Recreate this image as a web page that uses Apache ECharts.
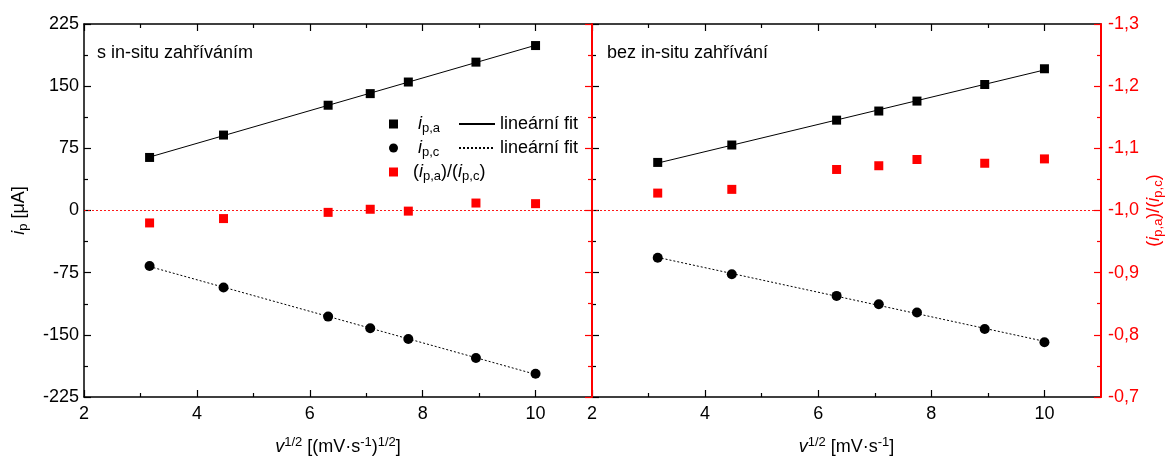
<!DOCTYPE html>
<html>
<head>
<meta charset="utf-8">
<script src="https://cdn.jsdelivr.net/npm/echarts@6/dist/echarts.min.js"></script>
<style>
  html, body { margin: 0; padding: 0; background: #fff; }
  #chart { width: 1170px; height: 457px; }
</style>
</head>
<body>
<div id="chart"></div>
<script>
// odmocnina z rychlosti skenu
var sqrtRate = [3.162, 4.472, 6.325, 7.071, 7.746, 8.944, 10];

// s in-situ zahrivanim
var leftIpa = [64, 91, 127, 141, 155, 179, 199];
var leftIpc = [-67, -93, -128, -142, -155, -178, -197];
var leftRatio = [-0.980, -0.987, -0.997, -1.002, -0.999, -1.012, -1.011];

// bez in-situ zahrivani
var rightIpa = [58, 79, 109, 120, 132, 152, 171];
var rightIpc = [-57, -77, -103, -113, -123, -143, -159];
var rightRatio = [-1.028, -1.034, -1.066, -1.072, -1.082, -1.076, -1.083];

var majorX = [2, 4, 6, 8, 10];
var minorX = [3, 5, 7, 9];
var panelTitles = ['s in-situ zahříváním', 'bez in-situ zahřívání'];

var FONT = 'Liberation Sans';
var FS = 18;
var RED = '#ff0000';

function pairs(xs, ys) {
    return xs.map(function (x, i) { return [x, ys[i]]; });
}

// linearni fit (nejmensi ctverce), usecka od prvniho do posledniho bodu
function linFit(xs, ys) {
    var n = xs.length, sx = 0, sy = 0, sxx = 0, sxy = 0;
    for (var i = 0; i < n; i++) {
        sx += xs[i]; sy += ys[i]; sxx += xs[i] * xs[i]; sxy += xs[i] * ys[i];
    }
    var k = (n * sxy - sx * sy) / (n * sxx - sx * sx);
    var q = (sy - k * sx) / n;
    var x0 = xs[0], x1 = xs[n - 1];
    return [[x0, k * x0 + q], [x1, k * x1 + q]];
}

var rich = {
    it: { fontStyle: 'italic', fontSize: FS, fontFamily: FONT, lineHeight: 22 },
    t: { fontSize: FS, fontFamily: FONT, lineHeight: 22 },
    sub: { fontSize: 13, fontFamily: FONT, verticalAlign: 'bottom', lineHeight: 14 },
    sup: { fontSize: 13, fontFamily: FONT, verticalAlign: 'top', lineHeight: 14 },
    g1: { width: 15, lineHeight: 22 },
    g2: { width: 10, lineHeight: 22 }
};

var axisLineBlack = { show: true, onZero: false, lineStyle: { color: '#000', width: 1.5 } };
var axisLineRed = { show: true, onZero: false, lineStyle: { color: RED, width: 2 } };

function xMain(grid, pos, withLabels, name) {
    return {
        type: 'value', gridIndex: grid, position: pos, min: 2, max: 11, interval: 1,
        axisLine: axisLineBlack,
        axisTick: { show: true, inside: true, length: 7, customValues: majorX, lineStyle: { color: '#000', width: 1.2 } },
        axisLabel: {
            show: withLabels, customValues: majorX, color: '#000', fontSize: FS, fontFamily: FONT, margin: 8
        },
        splitLine: { show: false },
        name: name || '',
        nameLocation: 'middle',
        nameGap: 39,
        nameTextStyle: { color: '#000', fontSize: FS, fontFamily: FONT, lineHeight: 22, rich: rich }
    };
}

function xMinor(grid, pos) {
    return {
        type: 'value', gridIndex: grid, position: pos, min: 2, max: 11, interval: 1,
        axisLine: { show: false, onZero: false },
        axisTick: { show: true, inside: true, length: 4, customValues: minorX, lineStyle: { color: '#000', width: 1.2 } },
        axisLabel: { show: false },
        splitLine: { show: false }
    };
}

function yIp(grid, withLabels) {
    return {
        type: 'value', gridIndex: grid, position: 'left', min: -225, max: 225, interval: 75,
        axisLine: axisLineBlack,
        axisTick: { show: true, inside: true, length: 7, lineStyle: { color: '#000', width: 1.2 } },
        minorTick: { show: true, splitNumber: 2, length: 4, lineStyle: { color: '#000', width: 1.2 } },
        axisLabel: { show: withLabels, color: '#000', fontSize: FS, fontFamily: FONT, margin: 5 },
        splitLine: { show: false },
        name: withLabels ? '{it|i}{sub|p} [μA]' : '',
        nameLocation: 'middle',
        nameRotate: 90,
        nameGap: 54,
        nameTextStyle: { color: '#000', fontSize: FS, fontFamily: FONT, lineHeight: 22, rich: rich }
    };
}

function yRatio(grid, withLabels) {
    return {
        type: 'value', gridIndex: grid, position: 'right', min: -1.3, max: -0.7, interval: 0.1,
        inverse: true, z: 5,
        axisLine: axisLineRed,
        axisTick: { show: true, inside: true, length: 7, lineStyle: { color: RED, width: 1.2 } },
        minorTick: { show: true, splitNumber: 2, length: 4, lineStyle: { color: RED, width: 1.2 } },
        axisLabel: {
            show: withLabels, color: RED, fontSize: FS, fontFamily: FONT, margin: 7,
            formatter: function (v) { return v.toFixed(1).replace('.', ','); }
        },
        splitLine: { show: false },
        name: withLabels ? '{t|(}{it|i}{sub|p,a}{t|)/(}{it|i}{sub|p,c}{t|)}' : '',
        nameLocation: 'middle',
        nameRotate: 90,
        nameGap: 40,
        nameTextStyle: { color: RED, fontSize: FS, fontFamily: FONT, lineHeight: 22, rich: rich }
    };
}

function panelSeries(xi, yi, yr, ipa, ipc, ratio) {
    return [
        {
            name: 'ipa', type: 'scatter', xAxisIndex: xi, yAxisIndex: yi,
            symbol: 'rect', symbolSize: 9, itemStyle: { color: '#000', opacity: 1 },
            data: pairs(sqrtRate, ipa), z: 4
        },
        {
            name: 'fitA', type: 'line', xAxisIndex: xi, yAxisIndex: yi,
            symbol: 'none', lineStyle: { color: '#000', width: 1 }, itemStyle: { color: '#000' },
            data: linFit(sqrtRate, ipa), silent: true
        },
        {
            name: 'ipc', type: 'scatter', xAxisIndex: xi, yAxisIndex: yi,
            symbol: 'circle', symbolSize: 10, itemStyle: { color: '#000', opacity: 1 },
            data: pairs(sqrtRate, ipc), z: 4
        },
        {
            name: 'fitC', type: 'line', xAxisIndex: xi, yAxisIndex: yi,
            symbol: 'none', lineStyle: { color: '#000', width: 1, type: [2, 2] }, itemStyle: { color: '#000' },
            data: linFit(sqrtRate, ipc), silent: true
        },
        {
            name: 'ratio', type: 'scatter', xAxisIndex: xi, yAxisIndex: yr,
            symbol: 'rect', symbolSize: 9, itemStyle: { color: RED, opacity: 1 },
            data: pairs(sqrtRate, ratio), z: 4,
            markLine: {
                silent: true, symbol: 'none', label: { show: false },
                lineStyle: { color: RED, width: 1, type: [2, 2], opacity: 0.9 },
                data: [{ yAxis: -1.0 }]
            }
        }
    ];
}

var grid0 = { left: 84, top: 24, width: 508, height: 373, outerBoundsMode: 'none', containLabel: false };
var grid1 = { left: 592, top: 24, width: 509, height: 373, outerBoundsMode: 'none', containLabel: false };

var legendText = {
    ipa: '{g1| }{it|i}{sub|p,a}',
    ipc: '{g1| }{it|i}{sub|p,c}',
    ratio: '{g2| }{t|(}{it|i}{sub|p,a}{t|)/(}{it|i}{sub|p,c}{t|)}',
    fitA: 'lineární fit',
    fitC: 'lineární fit'
};

var chart = echarts.init(document.getElementById('chart'), null, { renderer: 'canvas' });

var option = {
    backgroundColor: '#fff',
    animation: false,
    textStyle: { fontFamily: FONT },
    grid: [
        Object.assign({}, grid0),
        Object.assign({}, grid1),
        Object.assign({}, grid0),
        Object.assign({}, grid1)
    ],
    xAxis: [
        xMain(0, 'bottom', true, '{it|v}{sup|1/2} [(mV·s{sup|-1}){sup|1/2}]'),
        xMain(0, 'top', false),
        xMain(1, 'bottom', true, '{it|v}{sup|1/2} [mV·s{sup|-1}]'),
        xMain(1, 'top', false),
        xMinor(2, 'bottom'),
        xMinor(2, 'top'),
        xMinor(3, 'bottom'),
        xMinor(3, 'top')
    ],
    yAxis: [
        yIp(0, true),
        yRatio(0, false),
        yIp(1, false),
        yRatio(1, true),
        { type: 'value', gridIndex: 2, show: false, min: -225, max: 225 },
        { type: 'value', gridIndex: 3, show: false, min: -225, max: 225 }
    ],
    legend: [
        {
            data: [
                { name: 'ipa', icon: 'rect' },
                { name: 'ipc', icon: 'circle' },
                { name: 'ratio', icon: 'rect' }
            ],
            orient: 'vertical', left: 389, top: 113, padding: 0, itemGap: 2,
            itemWidth: 9, itemHeight: 9, selectedMode: false,
            formatter: function (n) { return legendText[n]; },
            textStyle: { color: '#000', fontSize: FS, fontFamily: FONT, lineHeight: 22, rich: rich }
        },
        {
            data: [
                { name: 'fitA', itemStyle: { opacity: 0 } },
                { name: 'fitC', itemStyle: { opacity: 0 } }
            ],
            orient: 'vertical', left: 458, top: 113, padding: 0, itemGap: 2,
            itemWidth: 36, itemHeight: 9, selectedMode: false,
            formatter: function (n) { return legendText[n]; },
            textStyle: { color: '#000', fontSize: FS, fontFamily: FONT, lineHeight: 22 }
        }
    ],
    graphic: [
        { type: 'text', left: 97, top: 44, style: { text: panelTitles[0], font: FS + 'px "Liberation Sans"', fill: '#000' } },
        { type: 'text', left: 607, top: 44, style: { text: panelTitles[1], font: FS + 'px "Liberation Sans"', fill: '#000' } }
    ],
    series: [].concat(
        panelSeries(0, 0, 1, leftIpa, leftIpc, leftRatio),
        panelSeries(2, 2, 3, rightIpa, rightIpc, rightRatio)
    )
};

chart.setOption(option);
</script>
</body>
</html>
